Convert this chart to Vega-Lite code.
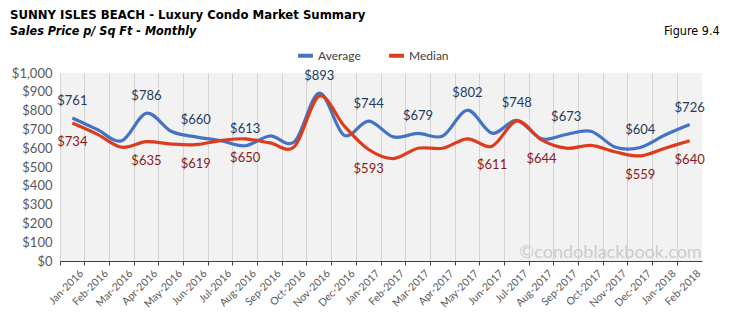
{
  "$schema": "https://vega.github.io/schema/vega-lite/v6.json",
  "width": 642,
  "height": 188,
  "autosize": "none",
  "padding": {"left": 60, "top": 73, "right": 35, "bottom": 63},
  "background": "white",
  "title": {
    "text": "SUNNY ISLES BEACH - Luxury Condo Market Summary",
    "subtitle": "Sales Price  p/ Sq Ft - Monthly",
    "anchor": "start",
    "frame": "group",
    "dx": -50,
    "offset": -12,
    "font": "DejaVu Sans Condensed, sans-serif",
    "fontSize": 13,
    "fontWeight": "bold",
    "color": "#000000",
    "subtitleFont": "DejaVu Sans Condensed, sans-serif",
    "subtitleFontSize": 12.5,
    "subtitleFontStyle": "italic",
    "subtitleFontWeight": "bold",
    "subtitleColor": "#000000",
    "subtitlePadding": 3
  },
  "datasets": {
    "series": [
      {"month": "Jan-2016", "series": "Average", "value": 761, "label": "$761"},
      {"month": "Feb-2016", "series": "Average", "value": 700, "label": ""},
      {"month": "Mar-2016", "series": "Average", "value": 640, "label": ""},
      {"month": "Apr-2016", "series": "Average", "value": 786, "label": "$786"},
      {"month": "May-2016", "series": "Average", "value": 690, "label": ""},
      {"month": "Jun-2016", "series": "Average", "value": 660, "label": "$660"},
      {"month": "Jul-2016", "series": "Average", "value": 640, "label": ""},
      {"month": "Aug-2016", "series": "Average", "value": 613, "label": "$613"},
      {"month": "Sep-2016", "series": "Average", "value": 665, "label": ""},
      {"month": "Oct-2016", "series": "Average", "value": 635, "label": ""},
      {"month": "Nov-2016", "series": "Average", "value": 893, "label": "$893"},
      {"month": "Dec-2016", "series": "Average", "value": 670, "label": ""},
      {"month": "Jan-2017", "series": "Average", "value": 744, "label": "$744"},
      {"month": "Feb-2017", "series": "Average", "value": 660, "label": ""},
      {"month": "Mar-2017", "series": "Average", "value": 679, "label": "$679"},
      {"month": "Apr-2017", "series": "Average", "value": 665, "label": ""},
      {"month": "May-2017", "series": "Average", "value": 802, "label": "$802"},
      {"month": "Jun-2017", "series": "Average", "value": 680, "label": ""},
      {"month": "Jul-2017", "series": "Average", "value": 748, "label": "$748"},
      {"month": "Aug-2017", "series": "Average", "value": 650, "label": ""},
      {"month": "Sep-2017", "series": "Average", "value": 673, "label": "$673"},
      {"month": "Oct-2017", "series": "Average", "value": 690, "label": ""},
      {"month": "Nov-2017", "series": "Average", "value": 605, "label": ""},
      {"month": "Dec-2017", "series": "Average", "value": 604, "label": "$604"},
      {"month": "Jan-2018", "series": "Average", "value": 670, "label": ""},
      {"month": "Feb-2018", "series": "Average", "value": 726, "label": "$726"},
      {"month": "Jan-2016", "series": "Median", "value": 734, "label": "$734"},
      {"month": "Feb-2016", "series": "Median", "value": 675, "label": ""},
      {"month": "Mar-2016", "series": "Median", "value": 605, "label": ""},
      {"month": "Apr-2016", "series": "Median", "value": 635, "label": "$635"},
      {"month": "May-2016", "series": "Median", "value": 622, "label": ""},
      {"month": "Jun-2016", "series": "Median", "value": 619, "label": "$619"},
      {"month": "Jul-2016", "series": "Median", "value": 640, "label": ""},
      {"month": "Aug-2016", "series": "Median", "value": 650, "label": "$650"},
      {"month": "Sep-2016", "series": "Median", "value": 628, "label": ""},
      {"month": "Oct-2016", "series": "Median", "value": 610, "label": ""},
      {"month": "Nov-2016", "series": "Median", "value": 877, "label": ""},
      {"month": "Dec-2016", "series": "Median", "value": 720, "label": ""},
      {"month": "Jan-2017", "series": "Median", "value": 593, "label": "$593"},
      {"month": "Feb-2017", "series": "Median", "value": 545, "label": ""},
      {"month": "Mar-2017", "series": "Median", "value": 600, "label": ""},
      {"month": "Apr-2017", "series": "Median", "value": 600, "label": ""},
      {"month": "May-2017", "series": "Median", "value": 650, "label": ""},
      {"month": "Jun-2017", "series": "Median", "value": 611, "label": "$611"},
      {"month": "Jul-2017", "series": "Median", "value": 745, "label": ""},
      {"month": "Aug-2017", "series": "Median", "value": 644, "label": "$644"},
      {"month": "Sep-2017", "series": "Median", "value": 600, "label": ""},
      {"month": "Oct-2017", "series": "Median", "value": 615, "label": ""},
      {"month": "Nov-2017", "series": "Median", "value": 580, "label": ""},
      {"month": "Dec-2017", "series": "Median", "value": 559, "label": "$559"},
      {"month": "Jan-2018", "series": "Median", "value": 600, "label": ""},
      {"month": "Feb-2018", "series": "Median", "value": 640, "label": "$640"},
      {"month": "Feb-2018", "series": "Watermark", "value": 0, "label": "©condoblackbook.com"},
      {"month": "Feb-2018", "series": "Figure", "value": 1200, "label": "Figure 9.4"}
    ]
  },
  "data": {"name": "series"},
  "encoding": {
    "x": {
      "field": "month",
      "type": "nominal",
      "sort": null,
      "scale": {"type": "band", "paddingInner": 0, "paddingOuter": 0},
      "axis": {
        "title": null,
        "labelAngle": -45,
        "bandPosition": 0,
        "labelOffset": 6,
        "grid": true,
        "gridColor": "#d4d4d4",
        "gridWidth": 1,
        "domainColor": "#404040",
        "tickColor": "#404040",
        "tickSize": 4,
        "labelColor": "#595959",
        "labelFontSize": 10.5,
        "labelFont": "Lato, Liberation Sans, sans-serif",
        "labelPadding": 3
      }
    },
    "y": {
      "field": "value",
      "type": "quantitative",
      "scale": {"domain": [0, 1000], "nice": false},
      "axis": {
        "title": null,
        "values": [0, 100, 200, 300, 400, 500, 600, 700, 800, 900, 1000],
        "format": "$,.0f",
        "domain": false,
        "ticks": false,
        "grid": false,
        "labelColor": "#595959",
        "labelFontSize": 13,
        "labelFont": "Lato, Liberation Sans, sans-serif",
        "labelPadding": 8
      }
    }
  },
  "layer": [
    {
      "transform": [{"filter": "datum.series === 'Average' || datum.series === 'Median'"}],
      "mark": {"type": "line", "interpolate": "cardinal", "strokeWidth": 3.2},
      "encoding": {
        "color": {
          "field": "series",
          "type": "nominal",
          "scale": {"domain": ["Average", "Median"], "range": ["#4472C4", "#DE3B1B"]},
          "legend": {
            "title": null,
            "orient": "none",
            "legendX": 236,
            "legendY": -27,
            "direction": "horizontal",
            "symbolType": "stroke",
            "symbolStrokeWidth": 4,
            "symbolSize": 220,
            "labelFontSize": 12,
            "labelColor": "#404040",
            "labelFont": "Lato, Liberation Sans, sans-serif",
            "labelOffset": 3,
            "columnPadding": 20
          }
        }
      }
    },
    {
      "transform": [{"filter": "datum.series === 'Average' && datum.label !== ''"}],
      "mark": {"type": "text", "dy": -17, "fontSize": 13, "font": "Lato, Liberation Sans, sans-serif", "color": "#253a5e"},
      "encoding": {"text": {"field": "label"}}
    },
    {
      "transform": [{"filter": "datum.series === 'Median' && datum.label !== ''"}],
      "mark": {"type": "text", "dy": 19, "fontSize": 13, "font": "Lato, Liberation Sans, sans-serif", "color": "#8b1a1a"},
      "encoding": {"text": {"field": "label"}}
    },
    {
      "transform": [{"filter": "datum.series === 'Watermark'"}],
      "mark": {"type": "text", "align": "right", "baseline": "bottom", "dx": 12, "dy": 1, "fontSize": 18, "font": "Lato, Liberation Sans, sans-serif", "color": "#cccccc"},
      "encoding": {"text": {"field": "label"}}
    },
    {
      "transform": [{"filter": "datum.series === 'Figure'"}],
      "mark": {"type": "text", "align": "right", "baseline": "alphabetic", "dx": 30, "fontSize": 12.5, "font": "DejaVu Sans Condensed, sans-serif", "color": "#000000"},
      "encoding": {"text": {"field": "label"}}
    }
  ],
  "config": {
    "view": {"fill": "#f2f2f2", "stroke": null}
  }
}
